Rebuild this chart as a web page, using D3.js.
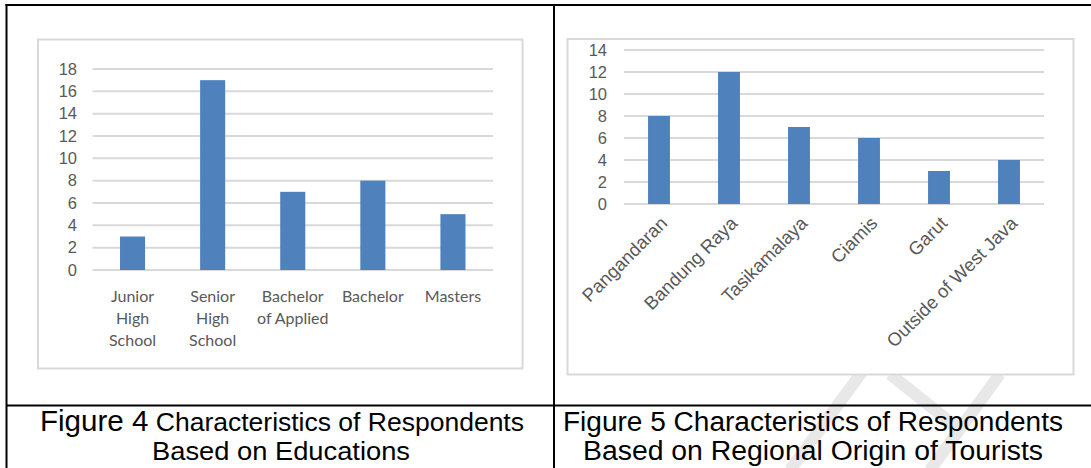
<!DOCTYPE html>
<html>
<head>
<meta charset="utf-8">
<script src="https://cdn.jsdelivr.net/npm/d3@7"></script>
<style>
  html, body { margin: 0; padding: 0; background: #fff; }
  svg { display: block; }
</style>
</head>
<body>
<svg id="fig" width="1091" height="468"></svg>
<script>
// Figure 4: respondents by education
const eduCategories = ["Junior High School", "Senior High School", "Bachelor of Applied", "Bachelor", "Masters"];
const eduLabelLines = [["Junior", "High", "School"], ["Senior", "High", "School"], ["Bachelor", "of Applied"], ["Bachelor"], ["Masters"]];
const eduValues = [3, 17, 7, 8, 5];
const eduTicks = [0, 2, 4, 6, 8, 10, 12, 14, 16, 18];

// Figure 5: respondents by regional origin
const regionCategories = ["Pangandaran", "Bandung Raya", "Tasikamalaya", "Ciamis", "Garut", "Outside of West Java"];
const regionValues = [8, 12, 7, 6, 3, 4];
const regionTicks = [0, 2, 4, 6, 8, 10, 12, 14];

const captionLeft = ["Figure 4", " Characteristics of Respondents", "Based on Educations"];
const captionRight = ["Figure 5 Characteristics of Respondents", "Based on Regional Origin of Tourists"];

const svg = d3.select("#fig");
const BAR = "#4f81bd", GRID = "#d9d9d9", INK = "#595959";

// ---- faint page watermark strokes (lower right) ----
const wm = svg.append("g").attr("stroke", "#e8e8e8").attr("stroke-width", 12).attr("stroke-linecap", "butt");
wm.append("line").attr("x1", 862).attr("y1", 372).attr("x2", 790).attr("y2", 470);
wm.append("line").attr("x1", 890).attr("y1", 374).attr("x2", 960).attr("y2", 430);
wm.append("line").attr("x1", 1000).attr("y1", 374).attr("x2", 930).attr("y2", 470);

// ---- table frame ----
const table = svg.append("g").attr("stroke", "#000").attr("stroke-width", 2);
table.append("line").attr("x1", 5.5).attr("x2", 1091).attr("y1", 5).attr("y2", 5);
table.append("line").attr("x1", 6.5).attr("x2", 6.5).attr("y1", 4).attr("y2", 468);
table.append("line").attr("x1", 554).attr("x2", 554).attr("y1", 4).attr("y2", 468);
table.append("line").attr("x1", 6).attr("x2", 1091).attr("y1", 405.5).attr("y2", 405.5);

// ---- generic bar chart panel ----
function panel(opts) {
  const g = svg.append("g");
  g.append("rect")
    .attr("x", opts.frame[0]).attr("y", opts.frame[1])
    .attr("width", opts.frame[2]).attr("height", opts.frame[3])
    .attr("fill", "#fff").attr("stroke", GRID).attr("stroke-width", 2);

  const x = d3.scaleBand().domain(opts.categories).range(opts.xRange)
    .paddingInner(0.687).paddingOuter(0.3435);
  const y = d3.scaleLinear().domain(opts.yDomain).range(opts.yRange);

  // gridlines
  g.append("g").selectAll("line").data(opts.ticks).join("line")
    .attr("x1", opts.xRange[0]).attr("x2", opts.xRange[1])
    .attr("y1", d => y(d)).attr("y2", d => y(d))
    .attr("stroke", GRID).attr("stroke-width", 2);

  // y axis labels
  const yAxis = d3.axisLeft(y).tickValues(opts.ticks).tickSize(0).tickPadding(0);
  const ya = g.append("g").attr("transform", `translate(${opts.yLabelRight},0)`).call(yAxis);
  ya.select(".domain").remove();
  ya.selectAll("text").attr("fill", INK)
    .attr("font-family", "'Liberation Sans', Arial, sans-serif")
    .attr("font-size", opts.yFont);

  // bars
  g.append("g").selectAll("rect").data(opts.values).join("rect")
    .attr("x", (d, i) => x(opts.categories[i]))
    .attr("width", x.bandwidth())
    .attr("y", d => y(d))
    .attr("height", d => y(0) - y(d))
    .attr("fill", BAR);

  return { g, x, y };
}

// ---- Figure 4 ----
const p4 = panel({
  frame: [38, 39.5, 484.5, 329],
  categories: eduCategories, values: eduValues, ticks: eduTicks,
  xRange: [92.5, 493], yDomain: [0, 18], yRange: [270, 69],
  yLabelRight: 77, yFont: 16.5
});
const lbl4 = p4.g.append("g").attr("font-family", "Lato, 'Open Sans', sans-serif")
  .attr("font-size", 16).attr("fill", INK).attr("text-anchor", "middle");
eduCategories.forEach((c, i) => {
  const cx = p4.x(c) + p4.x.bandwidth() / 2;
  const t = lbl4.append("text").attr("x", cx).attr("y", 302);
  eduLabelLines[i].forEach((line, k) => {
    t.append("tspan").attr("x", cx).attr("dy", k === 0 ? 0 : 22).text(line);
  });
});

// ---- Figure 5 ----
const p5 = panel({
  frame: [567.5, 39, 506, 335.5],
  categories: regionCategories, values: regionValues, ticks: regionTicks,
  xRange: [624, 1044], yDomain: [0, 14], yRange: [204, 50],
  yLabelRight: 607, yFont: 16.5
});
const lbl5 = p5.g.append("g").attr("font-family", "'Liberation Sans', Arial, sans-serif")
  .attr("font-size", 18.5).attr("fill", INK).attr("text-anchor", "end");
regionCategories.forEach(c => {
  const cx = p5.x(c) + p5.x.bandwidth() / 2;
  lbl5.append("text")
    .attr("transform", `translate(${cx},${215}) rotate(-45)`)
    .attr("dy", "0.72em")
    .text(c);
});

// ---- captions (condensed) ----
const cap = svg.append("g").attr("font-family", "'Liberation Sans', Arial, sans-serif")
  .attr("fill", "#000").attr("text-anchor", "middle");
const c1 = cap.append("text").attr("x", 282).attr("y", 431)
  .attr("textLength", 484).attr("lengthAdjust", "spacingAndGlyphs");
c1.append("tspan").attr("font-size", 29).text(captionLeft[0]);
c1.append("tspan").attr("font-size", 26).text(captionLeft[1]);
cap.append("text").attr("x", 281).attr("y", 460).attr("font-size", 26)
  .attr("textLength", 258).attr("lengthAdjust", "spacingAndGlyphs").text(captionLeft[2]);
cap.append("text").attr("x", 813).attr("y", 431).attr("font-size", 27)
  .attr("textLength", 500).attr("lengthAdjust", "spacingAndGlyphs").text(captionRight[0]);
cap.append("text").attr("x", 813).attr("y", 460).attr("font-size", 27)
  .attr("textLength", 460).attr("lengthAdjust", "spacingAndGlyphs").text(captionRight[1]);
</script>
</body>
</html>
